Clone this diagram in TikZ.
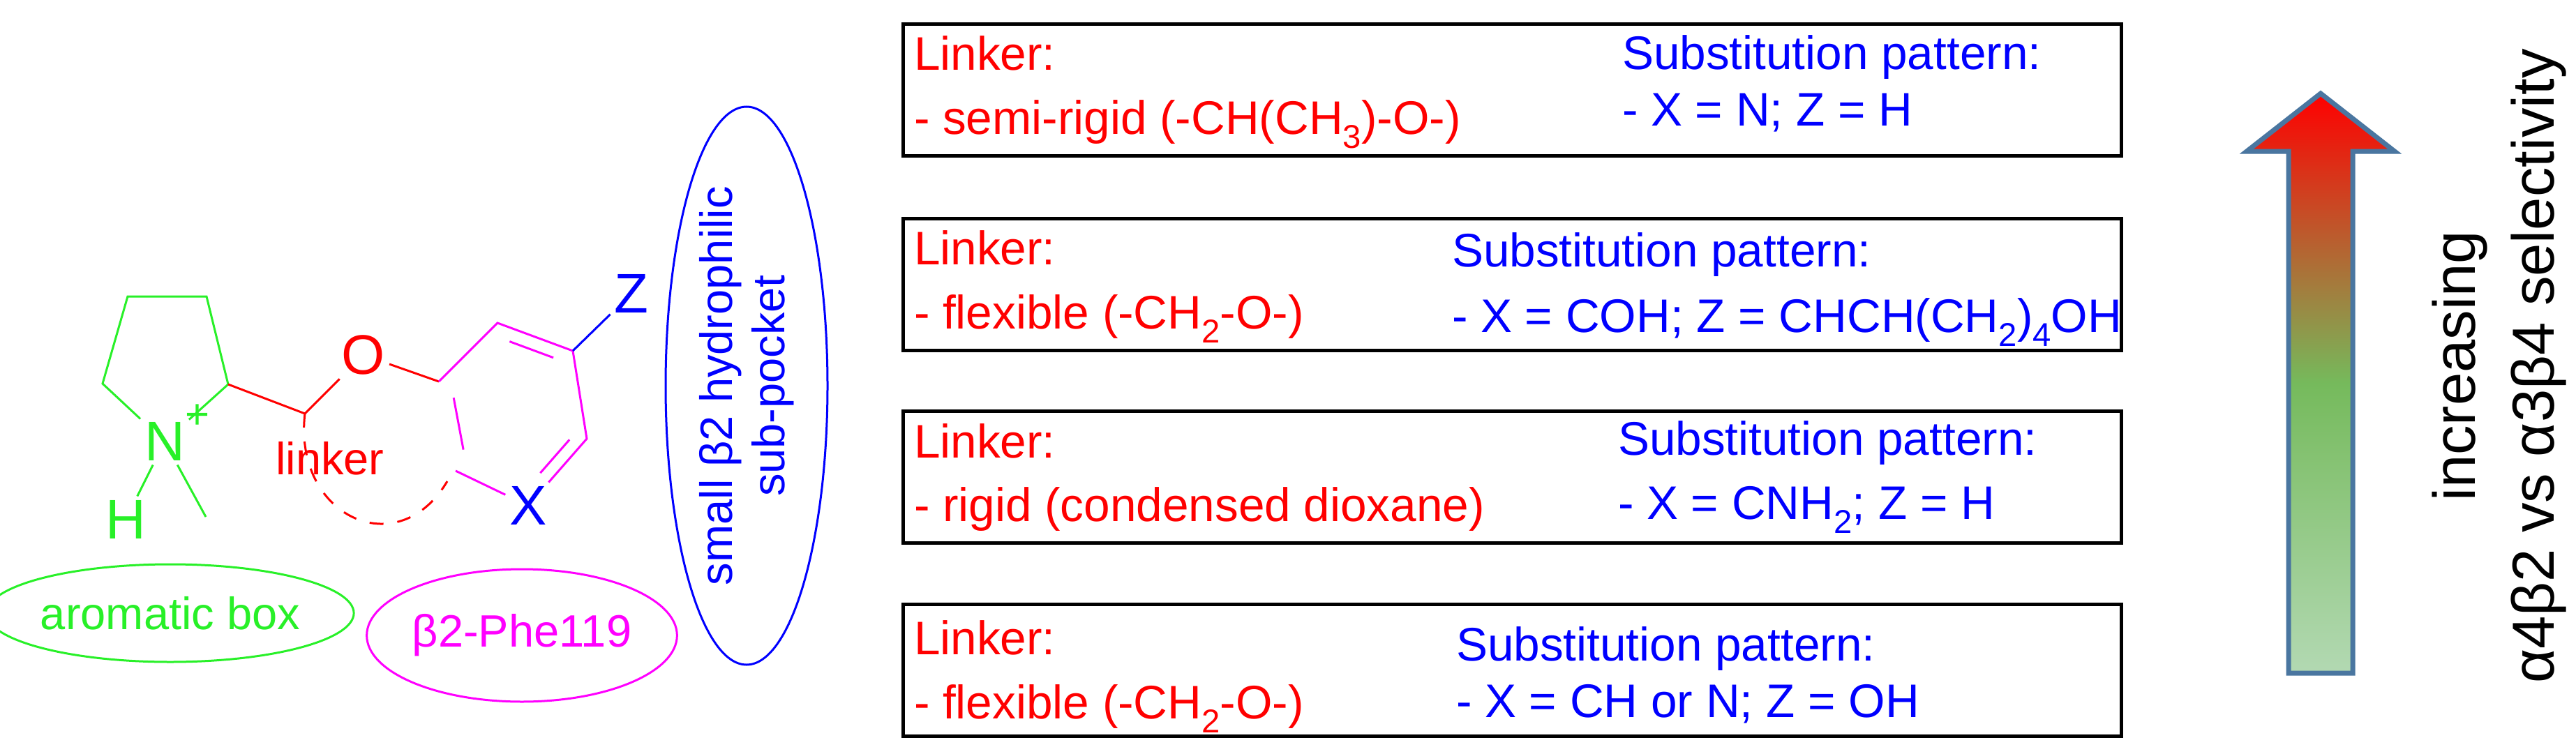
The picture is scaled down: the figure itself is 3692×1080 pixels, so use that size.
\documentclass[tikz,border=0pt]{standalone}
\usepackage{fontspec}
\setmainfont{Liberation Sans}
\usetikzlibrary{calc,shapes.geometric}
\newcommand{\subsc}[1]{\raisebox{-0.3em}{\scalebox{0.7}{#1}}}
\definecolor{cgreen}{RGB}{40,240,40}
\definecolor{cmag}{RGB}{255,0,255}
\definecolor{cblue}{RGB}{0,0,255}
\definecolor{cred}{RGB}{255,0,0}
\definecolor{arrline}{RGB}{74,118,160}
\begin{document}
\begin{tikzpicture}[x=0.2pt,y=-0.2pt,
  bond/.style={line width=0.6pt},
  atom/.style={inner sep=1pt,font=\fontsize{16}{16}\selectfont},
  infobox/.style={draw,line width=0.9pt,minimum width=349.2pt,minimum height=37.8pt,anchor=north west,inner sep=0pt},
  ltxt/.style={anchor=base west,inner sep=0pt,text=cred,font=\fontsize{13.5}{13.5}\selectfont},
  stxt/.style={anchor=base west,inner sep=0pt,text=cblue,font=\fontsize{13.5}{13.5}\selectfont},
  ell/.style={ellipse,draw,line width=0.6pt,inner sep=0pt}]
\useasboundingbox (0,0) rectangle (3692,1080);
% pyrrolidine
\coordinate (p1) at (183,425);
\coordinate (p2) at (296,425);
\coordinate (p3) at (327,551);
\coordinate (p5) at (147,550);
\node[atom,text=cgreen] (N) at (236,633) {N};
\node[inner sep=0pt,text=cgreen,font=\fontsize{12}{12}\selectfont] (plus) at (283,597) {+};
\node[atom,text=cgreen] (H) at (180,745) {H};
\coordinate (me) at (295,741);
\draw[bond,cgreen] (N) -- (p5) -- (p1) -- (p2) -- (p3) -- (N);
\draw[bond,cgreen] (N) -- (H);
\draw[bond,cgreen] (N) -- (me);
% linker
\coordinate (L) at (437,593);
\node[atom,text=cred] (O) at (521,509) {O};
\draw[bond,cred] (p3) -- (L) -- (O);
% ring
\coordinate (c1) at (629,547);
\coordinate (c2) at (713,463);
\coordinate (c3) at (821,503);
\coordinate (c4) at (841,629);
\node[atom,text=cblue] (X) at (757,725) {X};
\coordinate (c6) at (653,675);
\coordinate (ctr) at (736,590);
\node[atom,text=cblue] (Z) at (905,421) {Z};
\draw[bond,cred] (O) -- (c1);
\draw[bond,cmag] (c1) -- (c2) -- (c3) -- (c4) -- (X) -- (c6) -- cycle;
\draw[bond,cmag] ($($(c1)!0.15!(c6)$)!0.17!(ctr)$) -- ($($(c1)!0.85!(c6)$)!0.17!(ctr)$);
\draw[bond,cmag] ($($(c2)!0.15!(c3)$)!0.17!(ctr)$) -- ($($(c2)!0.85!(c3)$)!0.17!(ctr)$);
\draw[bond,cmag] ($($(c4)!0.1!(X)$)!0.17!(ctr)$) -- ($($(c4)!0.7!(X)$)!0.17!(ctr)$);
\draw[bond,cblue] (c3) -- (Z);
\node[inner sep=0pt,text=cred,font=\fontsize{13}{13}\selectfont] (lk) at (473,657) {linker};
\draw[bond,cred,dash pattern=on 4pt off 4pt] (L) .. controls (420,740) and (570,810) .. (641,690);
% ellipses
\node[ell,draw=cgreen,text=cgreen,minimum width=89.8pt,minimum height=28pt,font=\fontsize{13}{13}\selectfont] (arom) at (244,879) {aromatic box};
\node[ell,draw=cmag,text=cmag,minimum width=84.2pt,minimum height=38pt,font=\fontsize{13}{13}\selectfont] (phe) at (748,911) {β2-Phe119};
\node[ell,draw=cblue,minimum width=46.4pt,minimum height=160pt] (pocket) at (1070,553) {};
\node[rotate=90,text=cblue,align=center,font=\fontsize{13}{15}\selectfont] (pockettxt) at (1070,553) {small β2 hydrophilic\\sub-pocket};
% boxes
\node[infobox] (b1) at (1292,32) {};
\node[infobox] (b2) at (1292,311) {};
\node[infobox] (b3) at (1292,587) {};
\node[infobox] (b4) at (1292,864) {};
\node[ltxt] (l1a) at (1309,100) {Linker:};
\node[ltxt] (l1b) at (1309,192) {- semi-rigid (-CH(CH\subsc{3})-O-)};
\node[stxt] (s1a) at (2324,99) {Substitution pattern:};
\node[stxt] (s1b) at (2324,180) {- X = N; Z = H};
\node[ltxt] (l2a) at (1309,379) {Linker:};
\node[ltxt] (l2b) at (1309,471) {- flexible (-CH\subsc{2}-O-)};
\node[stxt] (s2a) at (2080,382) {Substitution pattern:};
\node[stxt] (s2b) at (2080,476) {- X = COH; Z = CHCH(CH\subsc{2})\subsc{4}OH};
\node[ltxt] (l3a) at (1309,656) {Linker:};
\node[ltxt] (l3b) at (1309,747) {- rigid (condensed dioxane)};
\node[stxt] (s3a) at (2318,652) {Substitution pattern:};
\node[stxt] (s3b) at (2318,744) {- X = CNH\subsc{2}; Z = H};
\node[ltxt] (l4a) at (1309,938) {Linker:};
\node[ltxt] (l4b) at (1309,1030) {- flexible (-CH\subsc{2}-O-)};
\node[stxt] (s4a) at (2086,947) {Substitution pattern:};
\node[stxt] (s4b) at (2086,1028) {- X = CH or N; Z = OH};
% arrow
\path[top color=red, bottom color=green!50!black!30!white, middle color=green!50!black!60!white!90!yellow, draw=arrline, line width=1.4pt]
  (3280,965) -- (3280,217) -- (3220,217) -- (3326,134) -- (3432,217) -- (3372,217) -- (3372,965) -- cycle;
\node[rotate=90,align=center,font=\fontsize{17}{22.6}\selectfont] (sel) at (3582,525) {increasing\\α4β2 vs α3β4 selectivity};
\end{tikzpicture}
\end{document}
